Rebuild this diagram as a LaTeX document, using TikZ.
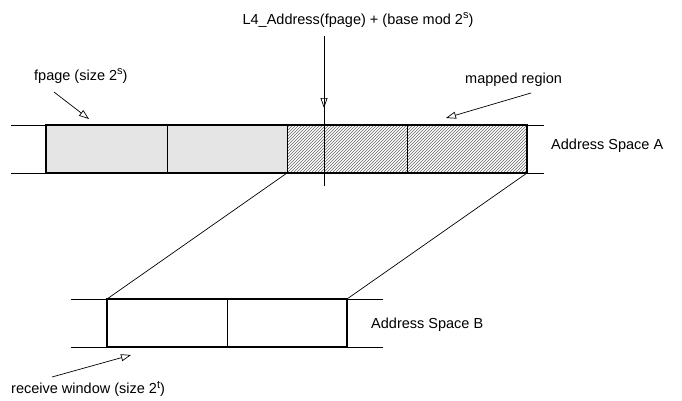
\documentclass[tikz,border=0pt]{standalone}
\usepackage{fontspec}
\setmainfont{Liberation Sans}
\usetikzlibrary{arrows.meta,patterns}
\newcommand{\supx}[1]{\raisebox{5.5pt}{\fontsize{11}{12}\selectfont #1}}
\begin{document}
\begin{tikzpicture}[x=1pt,y=-1pt,
  thinline/.style={line width=0.7pt},
  boxline/.style={line width=1.5pt},
  openarrow/.style={thinline,-{Triangle[open,length=10pt,width=7pt]}},
  lbl/.style={font=\fontsize{14.5}{17}\selectfont, inner sep=0pt}]
\useasboundingbox (0,0) rectangle (682,400);
% Address space A
\coordinate (a1) at (11,125); \coordinate (a2) at (544,125);
\coordinate (a3) at (11,173); \coordinate (a4) at (544,173);
\draw[thinline] (a1) -- (a2);
\draw[thinline] (a3) -- (a4);
\fill[gray!20] (46,125) rectangle (287,173);
\fill[pattern=north east lines, pattern color=gray!80!black] (287,125) rectangle (527,173);
\coordinate (Atl) at (46,125); \coordinate (Abr) at (527,173);
\coordinate (Am) at (287,173); \coordinate (Ar) at (527,173);
\draw[thinline] (167,125) -- (167,173);
\draw[thinline] (287,125) -- (287,173);
\draw[thinline] (407,125) -- (407,173);
\draw[boxline] (Atl) rectangle (Abr);
% vertical pointer
\node[lbl] (ltext) at (358,20) {L4\_Address(fpage) + (base mod 2\supx{s})};
\coordinate (vtop) at (324,36); \coordinate (vhead) at (324,108); \coordinate (vbot) at (324,186);
\draw[thinline] (vtop) -- (vbot);
\draw[openarrow] (vtop) -- (vhead);
% fpage label
\node[lbl, anchor=west] (fp) at (34,76) {fpage (size 2\supx{s})};
\coordinate (fpa) at (54,92); \coordinate (fpb) at (89,119);
\draw[openarrow] (fpa) -- (fpb);
% mapped region
\node[lbl, anchor=west] (mr) at (465,80) {mapped region};
\coordinate (mra) at (531,93); \coordinate (mrb) at (446,118);
\draw[openarrow] (mra) -- (mrb);
\node[lbl, anchor=west] (asa) at (551,146) {Address Space A};
% Address space B
\coordinate (b1) at (71,299); \coordinate (b2) at (383,299);
\coordinate (b3) at (71,347); \coordinate (b4) at (383,347);
\draw[thinline] (b1) -- (b2);
\draw[thinline] (b3) -- (b4);
\coordinate (Btl) at (107,299); \coordinate (Btr) at (347,299); \coordinate (Bbr) at (347,347);
\draw[thinline] (227,299) -- (227,347);
\draw[boxline] (Btl) rectangle (Bbr);
\node[lbl, anchor=west] (asb) at (371,325) {Address Space B};
% mapping lines
\draw[thinline] (Am) -- (Btl);
\draw[thinline] (Ar) -- (Btr);
% receive window
\node[lbl, anchor=west] (rw) at (11,389) {receive window (size 2\supx{t})};
\coordinate (rwa) at (52,377); \coordinate (rwb) at (131,355);
\draw[openarrow] (rwa) -- (rwb);
\end{tikzpicture}
\end{document}
